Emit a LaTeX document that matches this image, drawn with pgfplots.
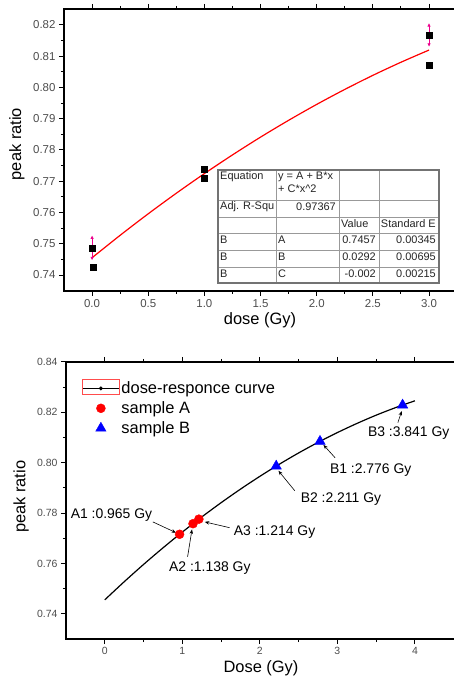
\documentclass[border=0pt]{standalone}
\usepackage{pgfplots}
\pgfplotsset{compat=1.18}
\usepackage{fontspec}
\setmainfont{Liberation Sans}
\usetikzlibrary{arrows.meta}

\definecolor{tickgray}{gray}{0.3}
\definecolor{tblline}{gray}{0.6}

\pgfplotsset{
  origin/.style={
    scale only axis,
    anchor=south west,
    axis line style={line width=1.3bp},
    tick align=outside,
    major tick length=5bp,
    minor tick length=3bp,
    every tick/.style={black, line width=1bp},
    tick label style={text=tickgray},
    /pgf/number format/assume math mode=true,
    clip=false,
  },
  markleg/.style={legend image code/.code={
    \path (0bp,0bp) (37bp,0bp);
    \draw[mark repeat=2, mark phase=2, ##1] plot coordinates {(0bp,0bp) (18.5bp,0bp) (37bp,0bp)};}},
}

\begin{document}
\begin{tikzpicture}
\useasboundingbox (0,0) rectangle (454bp,677bp);

% ---------- upper panel: fit ----------
\begin{axis}[origin,
  at={(64bp,386bp)}, width=392bp, height=282bp,
  xmin=-0.25, xmax=3.24, ymin=0.7349, ymax=0.8251,
  xtick={0,0.5,1,1.5,2,2.5,3}, minor x tick num=1,
  ytick={0.74,0.75,0.76,0.77,0.78,0.79,0.80,0.81,0.82}, minor y tick num=1,
  xticklabel style={font=\fontsize{11.5}{13}\selectfont,
    /pgf/number format/.cd, fixed, fixed zerofill, precision=1},
  yticklabel style={font=\fontsize{11.5}{13}\selectfont,
    /pgf/number format/.cd, fixed, fixed zerofill, precision=2},
  xlabel={dose (Gy)}, ylabel={peak ratio},
  label style={font=\fontsize{16.5}{19}\selectfont},
  xlabel style={at={(axis description cs:0.5,-0.103)}, anchor=center},
  ylabel style={at={(axis description cs:-0.12,0.521)}, anchor=center},
]
% fitted curve
\addplot[red, line width=1.2bp, smooth] coordinates {
  (0,0.74555) (0.25,0.75272) (0.5,0.75960) (0.75,0.76617) (1.0,0.77245)
  (1.25,0.77843) (1.5,0.78412) (1.75,0.78950) (2.0,0.79459) (2.25,0.79938)
  (2.5,0.80388) (2.75,0.80807) (3.0,0.81197)};
% error bars (up and down from the mean point)
\addplot[magenta, line width=0.8bp, -{Latex[length=3.5bp,width=3.5bp]},
  quiver={u=\thisrow{u}, v=\thisrow{v}}] table {
  x    y      u  v
  0    0.7487 0  0.0040
  0    0.7487 0  -0.0040
  3    0.8168 0  0.0038
  3    0.8168 0  -0.0038
};
% data
\addplot[only marks, mark=square*, mark size=3bp, black] coordinates {
  (0,0.7487) (0.01,0.7424) (1,0.7738) (1,0.7710) (3,0.8168) (3,0.8070)};
\end{axis}

% fit table
\begin{scope}[x=1bp, y=-1bp, shift={(0,677bp)}]
  \fill[white] (218,170) rectangle (439,283);
  \draw[tblline, line width=0.6bp]
    (218,200) -- (439,200) (218,217) -- (439,217) (218,233) -- (439,233)
    (218,250) -- (439,250) (218,267) -- (439,267)
    (276,170) -- (276,283) (339,170) -- (339,283) (379,170) -- (379,283);
  \draw[black!55, line width=1.2bp] (218,170) rectangle (439,283);
  \begin{scope}[every node/.style={inner sep=0pt, text=black!85,
      font=\fontsize{11}{12}\selectfont}]
    \node[anchor=west] at (220,177) {Equation};
    \node[anchor=west] at (278,177) {y = A + B*x};
    \node[anchor=west] at (278,189) {+ C*x\textasciicircum 2};
    \node[anchor=west] at (220,207) {Adj. R-Squ};
    \node[anchor=east] at (336,207) {0.97367};
    \node[anchor=west] at (341,224) {Value};
    \node[anchor=east] at (436,224) {Standard E};
    \node[anchor=west] at (220,240) {B};
    \node[anchor=west] at (278,240) {A};
    \node[anchor=east] at (376,240) {0.7457};
    \node[anchor=east] at (436,240) {0.00345};
    \node[anchor=west] at (220,257) {B};
    \node[anchor=west] at (278,257) {B};
    \node[anchor=east] at (376,257) {0.0292};
    \node[anchor=east] at (436,257) {0.00695};
    \node[anchor=west] at (220,274) {B};
    \node[anchor=west] at (278,274) {C};
    \node[anchor=east] at (376,274) {-0.002};
    \node[anchor=east] at (436,274) {0.00215};
  \end{scope}
\end{scope}

% ---------- lower panel: samples ----------
\begin{axis}[origin,
  at={(66bp,38bp)}, width=390bp, height=277bp,
  xmin=-0.5, xmax=4.53, ymin=0.73, ymax=0.84,
  xtick={0,1,2,3,4}, minor x tick num=1,
  ytick={0.74,0.76,0.78,0.80,0.82,0.84}, minor y tick num=1,
  xticklabel style={font=\fontsize{10.5}{12}\selectfont},
  yticklabel style={font=\fontsize{10.5}{12}\selectfont,
    /pgf/number format/.cd, fixed, fixed zerofill, precision=2},
  xlabel={Dose (Gy)}, ylabel={peak ratio},
  label style={font=\fontsize{16.5}{19}\selectfont},
  xlabel style={at={(axis description cs:0.5,-0.105)}, anchor=center},
  ylabel style={at={(axis description cs:-0.115,0.513)}, anchor=center},
  legend cell align=left,
  legend style={draw=none, fill=none, inner sep=0pt,
    at={(axis description cs:0.040,0.935)}, anchor=north west,
    font=\fontsize{16.5}{19}\selectfont, row sep=3.5bp,
    nodes={inner sep=1.5bp},
    /tikz/every even column/.append style={column sep=8bp}},
]
\addplot[black, line width=1.2bp, smooth,
  legend image code/.code={
    \draw[black, line width=1.2bp] (0bp,0bp) -- (37bp,0bp);
    \fill[black] (18.5bp,0bp) circle (1.3bp);}]
  coordinates {
  (0,0.74555) (0.25,0.75272) (0.5,0.75960) (0.75,0.76617) (1.0,0.77245)
  (1.25,0.77843) (1.5,0.78412) (1.75,0.78950) (2.0,0.79459) (2.25,0.79938)
  (2.5,0.80388) (2.75,0.80807) (3.0,0.81197) (3.25,0.81557) (3.5,0.81888)
  (3.75,0.82188) (4.0,0.82459)};
\addlegendentry{dose-responce curve}
\addplot[only marks, mark=*, mark size=4.5bp, red, draw=red, markleg]
  coordinates {(0.965,0.77159) (1.138,0.77579) (1.214,0.77759)};
\addlegendentry{sample A}
\addplot[only marks, mark=triangle*, mark size=6bp, blue, draw=blue, markleg]
  coordinates {(2.776,0.80849) (2.211,0.79865) (3.841,0.82290)};
\addlegendentry{sample B}

\begin{scope}[every node/.style={font=\fontsize{14}{16}\selectfont, inner sep=0pt}]
  \node at (axis cs:0.087,0.7793) {A1 :0.965 Gy};
  \node at (axis cs:1.355,0.7583) {A2 :1.138 Gy};
  \node at (axis cs:2.19,0.7726) {A3 :1.214 Gy};
  \node at (axis cs:3.046,0.7857) {B2 :2.211 Gy};
  \node at (axis cs:3.43,0.7972) {B1 :2.776 Gy};
  \node at (axis cs:3.92,0.8119) {B3 :3.841 Gy};
\end{scope}
\begin{scope}[black, line width=0.6bp, -{Stealth[length=4.5bp,width=3.5bp]}]
  \draw (axis cs:0.62,0.7765) -- (axis cs:0.92,0.7722);
  \draw (axis cs:1.068,0.7626) -- (axis cs:1.125,0.7735);
  \draw (axis cs:1.61,0.7742) -- (axis cs:1.29,0.7765);
  \draw (axis cs:2.45,0.7889) -- (axis cs:2.24,0.7968);
  \draw (axis cs:2.97,0.8020) -- (axis cs:2.82,0.8071);
  \draw (axis cs:3.78,0.8159) -- (axis cs:3.83,0.8205);
\end{scope}
\end{axis}

% frame drawn round the first legend symbol
\draw[red!70, line width=0.8bp] (82bp,283bp) rectangle (119bp,298bp);
\end{tikzpicture}
\end{document}
